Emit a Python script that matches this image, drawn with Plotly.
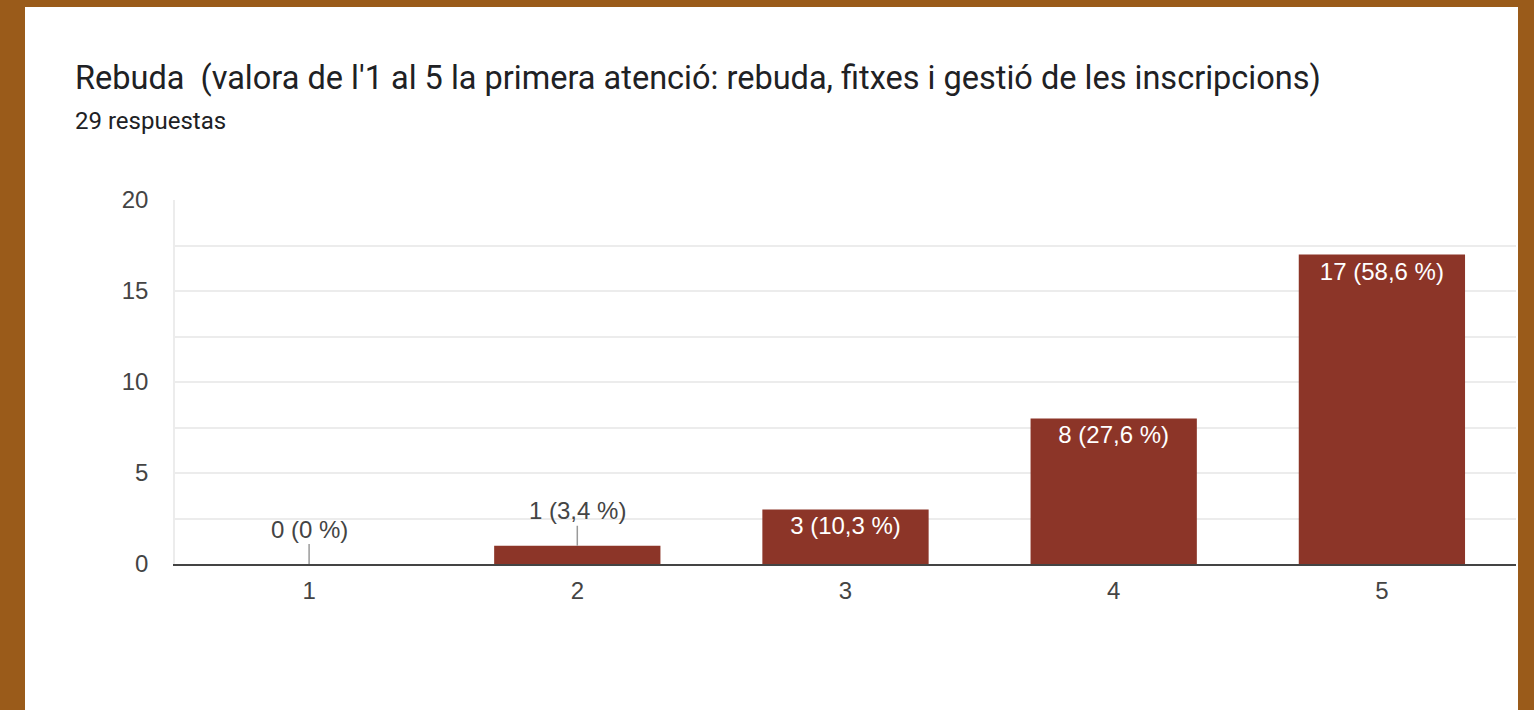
import plotly.graph_objects as go

categories = [1, 2, 3, 4, 5]
category_labels = ["1", "2", "3", "4", "5"]
counts = [0, 1, 3, 8, 17]
total = 29
y_ticks = [0, 5, 10, 15, 20]

title_text = "Rebuda  (valora de l'1 al 5 la primera atenció: rebuda, fitxes i gestió de les inscripcions)"
subtitle_text = f"{total} respuestas"

def fmt_label(v):
    pct = round(v / total * 100, 1)
    s = f"{pct:.1f}".replace(".", ",")
    if s.endswith(",0"):
        s = s[:-2]
    return f"{v} ({s} %)"

labels = [fmt_label(v) for v in counts]
inside = [v >= 3 for v in counts]

W, H = 1534, 710
L, R, T, B = 175, 18, 200, 146
pw = W - L - R
ph = H - T - B

def px_x(p):
    return (p - L) / pw

def px_y(p):
    return (H - B - p) / ph

LBL_FONT = "Liberation Sans, Arial, sans-serif"

fig = go.Figure()
fig.add_trace(go.Bar(
    x=categories, y=counts,
    marker=dict(color="#8C3528", line=dict(width=0)),
    width=0.62,
    text=[lab if ins else "" for lab, ins in zip(labels, inside)],
    textposition="inside",
    insidetextanchor="end",
    textangle=0,
    textfont=dict(family=LBL_FONT, size=24, color="#ffffff"),
    cliponaxis=False,
    hoverinfo="skip",
))

for c, v, lab, ins in zip(categories, counts, labels, inside):
    if not ins:
        fig.add_annotation(
            x=c, y=v, xref="x", yref="y",
            text=lab, showarrow=True, arrowhead=0, arrowwidth=1.5,
            arrowcolor="#9a9a9a", ax=0, ay=-35, standoff=0,
            font=dict(family=LBL_FONT, size=24, color="#444444"),
        )

# white panel over brown frame
fig.add_shape(type="rect", xref="paper", yref="paper",
              x0=px_x(25), x1=px_x(1518), y0=px_y(712), y1=px_y(7),
              fillcolor="#ffffff", line=dict(width=0), layer="below")

fig.add_annotation(text=title_text, xref="paper", yref="paper",
                   x=px_x(73), y=px_y(78), xanchor="left", yanchor="middle",
                   showarrow=False,
                   font=dict(family="Roboto, Arial", size=32.5, color="#202124"))
fig.add_annotation(text=subtitle_text, xref="paper", yref="paper",
                   x=px_x(73), y=px_y(121), xanchor="left", yanchor="middle",
                   showarrow=False,
                   font=dict(family="Roboto, Arial", size=24, color="#202124"))

fig.update_layout(
    width=W, height=H,
    margin=dict(l=L, r=R, t=T, b=B, pad=0),
    paper_bgcolor="#9A5B1A",
    plot_bgcolor="rgba(0,0,0,0)",
    showlegend=False,
    font=dict(family=LBL_FONT, color="#444444"),
)
fig.update_xaxes(
    range=[0.5, 5.5], tickvals=categories, ticktext=category_labels,
    showgrid=False, showline=True, linecolor="#444444", linewidth=2,
    ticks="", tickfont=dict(family=LBL_FONT, size=24, color="#444444"),
    ticklabelstandoff=4, zeroline=False,
)
fig.update_yaxes(
    range=[0, 20], tickvals=y_ticks, ticktext=[str(t) for t in y_ticks],
    showgrid=True, gridcolor="#ececec", gridwidth=1.5,
    minor=dict(dtick=2.5, showgrid=True, gridcolor="#ececec", gridwidth=1.5),
    showline=True, linecolor="#ececec", linewidth=1.5,
    ticks="", tickfont=dict(family=LBL_FONT, size=24, color="#444444"),
    ticklabelstandoff=20, zeroline=False,
)

fig.write_html("out.html", config={"displayModeBar": False},
               post_script="document.body.style.margin='0px';")
